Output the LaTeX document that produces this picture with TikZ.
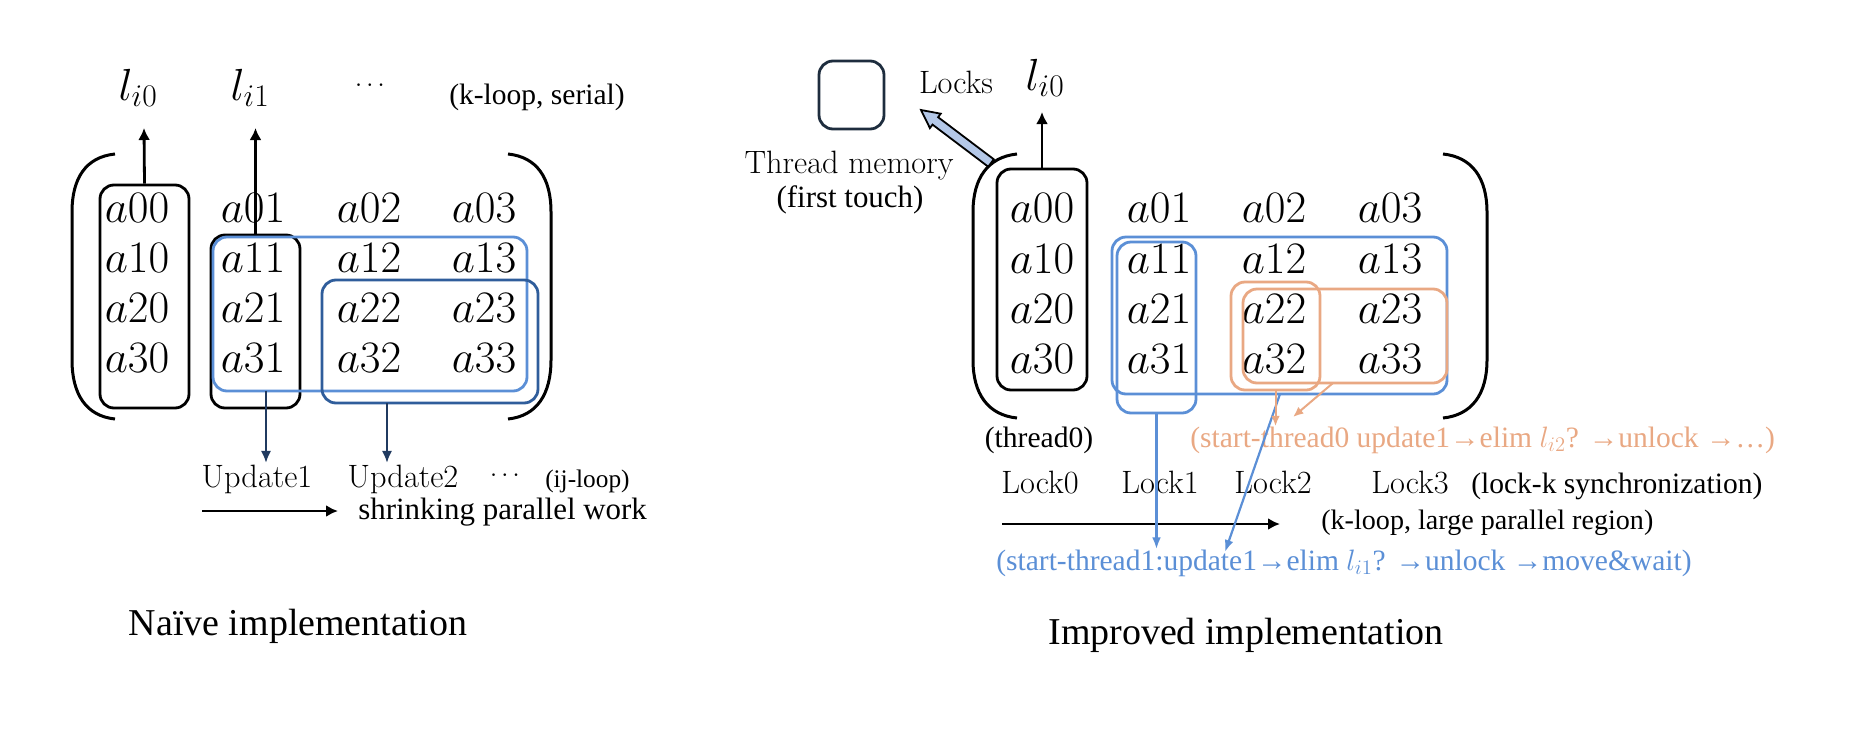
\RequirePackage{fix-cm}
\documentclass[tikz,border=0pt]{standalone}
\usepackage{fontspec}
\newfontfamily\tnr{Liberation Serif}
\usetikzlibrary{fit,arrows.meta}

\definecolor{lightblu}{HTML}{5B8FD6}
\definecolor{darkblu}{HTML}{2F5D9B}
\definecolor{navy}{HTML}{203A60}
\definecolor{peach}{HTML}{E9A883}
\definecolor{lockline}{HTML}{1E2D3E}
\definecolor{memfill}{HTML}{B4C8E8}

\tikzset{
  elem/.style={font=\fontsize{32}{38}\selectfont, inner sep=0pt},
  lab/.style={font=\fontsize{23}{28}\selectfont, inner sep=1pt},
  note/.style={font=\tnr\fontsize{21}{25}\selectfont, inner sep=0pt},
  heading/.style={font=\tnr\fontsize{27}{32}\selectfont, inner sep=0pt},
  dotsl/.style={font=\fontsize{18}{22}\selectfont, inner sep=0pt},
  paren/.style={line width=0.75mm},
  kbox/.style={draw, line width=0.7mm, rounded corners=3.5mm, inner sep=0pt},
  lbbox/.style={kbox, draw=lightblu},
  dbbox/.style={kbox, draw=darkblu},
  pcbox/.style={kbox, draw=peach},
  karr/.style={line width=0.7mm, -{Latex[length=3mm,width=3mm]}},
  narr/.style={line width=0.65mm, draw=navy, -{Latex[length=3mm,width=2.6mm]}},
  barr/.style={line width=0.55mm, draw=lightblu, -{Latex[length=3mm,width=2.2mm]}},
  parr/.style={line width=0.5mm, draw=peach, -{Latex[length=2.6mm,width=2.2mm]}}
}

\begin{document}
\begin{tikzpicture}[x=0.25mm, y=-0.25mm]

\useasboundingbox (0,0) rectangle (1854,732);

% naive implementation

\node[elem] (L00) at (137,208) {$a00$};
\node[elem] (L01) at (253,208) {$a01$};
\node[elem] (L02) at (369,208) {$a02$};
\node[elem] (L03) at (484,208) {$a03$};

\node[elem] (L10) at (137,258) {$a10$};
\node[elem] (L11) at (253,258) {$a11$};
\node[elem] (L12) at (369,258) {$a12$};
\node[elem] (L13) at (484,258) {$a13$};

\node[elem] (L20) at (137,308) {$a20$};
\node[elem] (L21) at (253,308) {$a21$};
\node[elem] (L22) at (369,308) {$a22$};
\node[elem] (L23) at (484,308) {$a23$};

\node[elem] (L30) at (137,358) {$a30$};
\node[elem] (L31) at (253,358) {$a31$};
\node[elem] (L32) at (369,358) {$a32$};
\node[elem] (L33) at (484,358) {$a33$};

\draw[paren] (115,154) .. controls (86,157) and (72,178) .. (72,212) -- (72,360) .. controls (72,394) and (86,416) .. (115,419);
\draw[paren] (508,154) .. controls (537,157) and (551,178) .. (551,212) -- (551,360) .. controls (551,394) and (537,416) .. (508,419);

\node[kbox, fit={(100,185) (189,408)}] (Lb0) {};
\node[kbox, fit={(211,235) (300,408)}] (Lb1) {};
\node[lbbox, fit={(213,237) (527,391)}] (LbA) {};
\node[dbbox, fit={(322,280) (538,403)}] (LbB) {};

\node[elem, anchor=base] (Ll0) at (138,100) {$l_{i0}$};
\node[elem, anchor=base] (Ll1) at (250,100) {$l_{i1}$};
\node[dotsl] (Ldots) at (370,86) {$\cdots$};
\node[note, anchor=base west] (Lser) at (449,104) {(k-loop, serial)};

\coordinate (Lt0) at (144,128);
\draw[karr] (Lb0.north) -- (Lt0);
\draw[karr] (Lb1.north) -- (Lb1.north |- Lt0);

\node[lab, anchor=base] (U1) at (257,487) {Update1};
\node[lab, anchor=base] (U2) at (403,487) {Update2};
\node[dotsl] (Udots) at (505,476) {$\cdots$};
\node[note, anchor=base west, font=\tnr\fontsize{18}{22}\selectfont] (Uij) at (545,487) {(ij-loop)};

\coordinate (Lu1) at (266,391);
\coordinate (Lu2) at (387,403);
\draw[narr] (Lu1) -- (Lu1 |- U1.north);
\draw[narr] (Lu2) -- (Lu2 |- U2.north);

\coordinate (Sa) at (202,511);
\coordinate (Sb) at (338,511);
\draw[karr] (Sa) -- (Sb);
\node[note, anchor=west, font=\tnr\fontsize{22}{26}\selectfont] (Sw) at (358,512) {shrinking parallel work};

\node[heading] (Tnaive) at (298,626) {Naïve implementation};

% improved implementation

\node[elem] (R00) at (1042,208) {$a00$};
\node[elem] (R01) at (1159,208) {$a01$};
\node[elem] (R02) at (1274,208) {$a02$};
\node[elem] (R03) at (1390,208) {$a03$};

\node[elem] (R10) at (1042,259) {$a10$};
\node[elem] (R11) at (1159,259) {$a11$};
\node[elem] (R12) at (1274,259) {$a12$};
\node[elem] (R13) at (1390,259) {$a13$};

\node[elem] (R20) at (1042,309) {$a20$};
\node[elem] (R21) at (1159,309) {$a21$};
\node[elem] (R22) at (1274,309) {$a22$};
\node[elem] (R23) at (1390,309) {$a23$};

\node[elem] (R30) at (1042,359) {$a30$};
\node[elem] (R31) at (1159,359) {$a31$};
\node[elem] (R32) at (1274,359) {$a32$};
\node[elem] (R33) at (1390,359) {$a33$};

\draw[paren] (1017,154) .. controls (988,157) and (973,178) .. (973,212) -- (973,360) .. controls (973,394) and (988,415) .. (1017,418);
\draw[paren] (1443,154) .. controls (1472,157) and (1487,178) .. (1487,212) -- (1487,360) .. controls (1487,394) and (1472,415) .. (1443,418);

\node[kbox, fit={(997,169) (1087,390)}] (Rb0) {};
\node[lbbox, fit={(1112,237) (1447,394)}] (RbA) {};
\node[lbbox, fit={(1117,242) (1196,413)}] (RbT) {};
\node[pcbox, fit={(1231,282) (1320,390)}] (RbO1) {};
\node[pcbox, fit={(1243,289) (1447,383)}] (RbO2) {};

\node[kbox, draw=lockline, fit={(819,61) (884,129)}] (LkBox) {};
\node[lab, anchor=base] (Locks) at (956,93) {Locks};
\node[elem, anchor=base] (Rl0) at (1045,90) {$l_{i0}$};

\coordinate (Rt0) at (1042,112);
\draw[karr] (Rb0.north) -- (Rt0);

\draw[line width=0.45mm, fill=memfill] (993.8,159.3) -- (938.1,117.2) -- (940.7,113.7) -- (921,110) -- (929.9,128.1) -- (932.5,124.6) -- (988.2,166.7) -- cycle;

\node[lab, anchor=base] (Tmem) at (849,173) {Thread memory};
\node[note, anchor=base, font=\tnr\fontsize{22}{26}\selectfont] (Touch) at (850,207) {(first touch)};

\node[note] (Th0) at (1039,440) {(thread0)};
\node[note, anchor=base west, text=peach] (Ot) at (1190,447) {(start-thread0 update1→elim $l_{i2}$? →unlock →…)};

\node[lab, anchor=base] (Lk0) at (1040,493) {Lock0};
\node[lab, anchor=base] (Lk1) at (1160,493) {Lock1};
\node[lab, anchor=base] (Lk2) at (1273,493) {Lock2};
\node[lab, anchor=base] (Lk3) at (1410,493) {Lock3};
\node[note, anchor=base west] (Lsync) at (1471,493) {(lock-k synchronization)};

\coordinate (Ka) at (1002,524);
\coordinate (Kb) at (1280,524);
\draw[karr] (Ka) -- (Kb);
\node[note, anchor=west, font=\tnr\fontsize{20}{24}\selectfont] (Kl) at (1321,523) {(k-loop, large parallel region)};

\node[note, anchor=west, text=lightblu] (Bt) at (996,563) {(start-thread1:update1→elim $l_{i1}$? →unlock →move\&wait)};

\draw[barr] (RbT.south) -- (RbT.south |- Bt.north);
\coordinate (Ru2) at (1280,394);
\coordinate (Rv2) at (1225,552);
\draw[barr] (Ru2) -- (Rv2);

\draw[parr] (RbO1.south) -- (RbO1.south |- Ot.north);
\coordinate (Ro2) at (1333,383);
\coordinate (Ro2t) at (1293,417);
\draw[parr] (Ro2) -- (Ro2t);

\node[heading] (Timpr) at (1246,635) {Improved implementation};

\end{tikzpicture}
\end{document}
